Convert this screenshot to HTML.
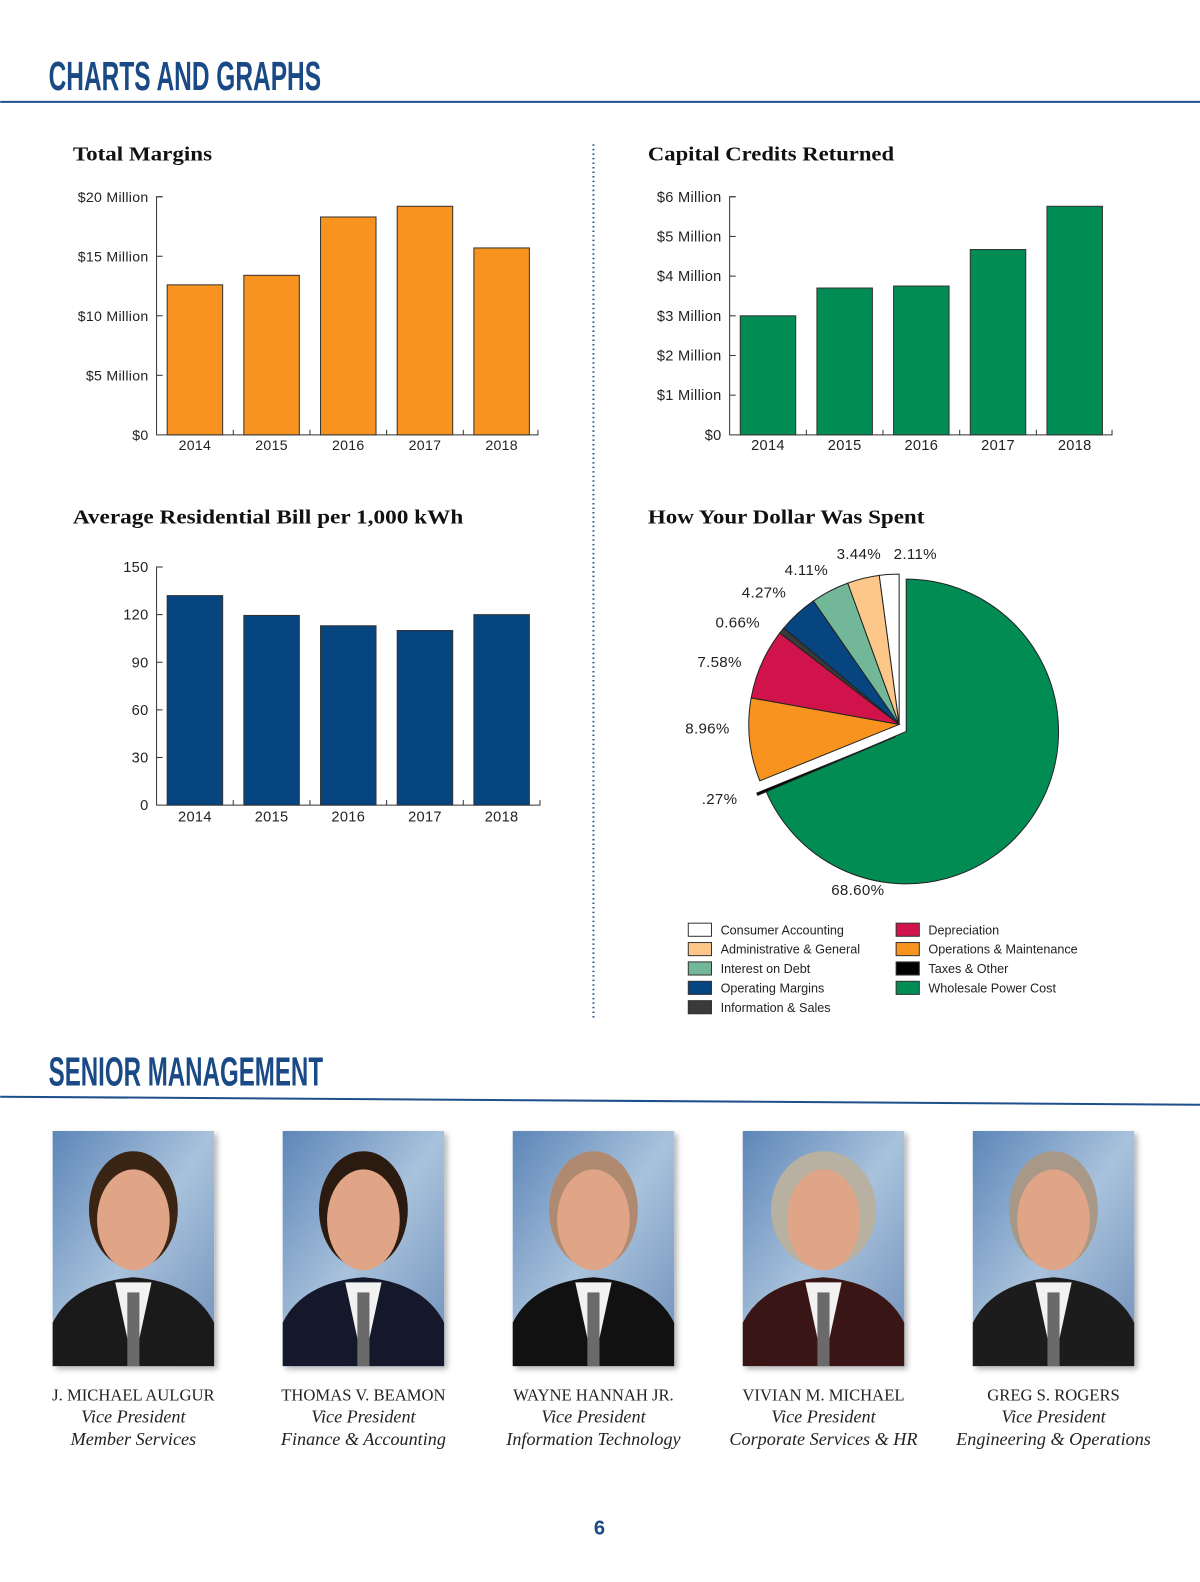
<!DOCTYPE html>
<html><head><meta charset="utf-8"><style>
html,body{margin:0;padding:0;background:#fff;}
svg{display:block;}
.ax{font-family:"Liberation Sans",sans-serif;font-size:14px;letter-spacing:0.3px;fill:#222;}
.tt{font-family:"Liberation Serif",serif;font-size:20px;font-weight:bold;fill:#111;}
.hd{font-family:"Liberation Sans Narrow","Liberation Sans",sans-serif;font-size:40px;font-weight:bold;fill:#1a4a86;}
.nm{font-family:"Liberation Serif",serif;font-size:16.5px;fill:#222;}
.it{font-family:"Liberation Serif",serif;font-size:18px;font-style:italic;fill:#222;}
.lg{font-family:"Liberation Sans",sans-serif;font-size:12.5px;fill:#222;}
</style></head><body>
<svg id="page" width="1200" height="1582" viewBox="0 0 1189 1568" xmlns="http://www.w3.org/2000/svg">
<defs>
<linearGradient id="bg" x1="0" y1="0" x2="1" y2="1"><stop offset="0" stop-color="#5d86b8"/><stop offset="0.5" stop-color="#a9c2dc"/><stop offset="1" stop-color="#6e8fba"/></linearGradient>
<filter id="sh" x="-10%" y="-10%" width="130%" height="130%"><feDropShadow dx="3" dy="3" stdDeviation="3" flood-color="#000" flood-opacity="0.3"/></filter>
</defs>
<text class="hd" x="48" y="89" textLength="270" lengthAdjust="spacingAndGlyphs">CHARTS AND GRAPHS</text>
<line x1="0" y1="101" x2="1200" y2="101" stroke="#1d4f8b" stroke-width="2"/>
<line x1="588" y1="143" x2="588" y2="1010" stroke="#2a5a90" stroke-width="2" stroke-dasharray="1.5 3"/>

<text class="tt" x="72" y="159" textLength="138" lengthAdjust="spacingAndGlyphs">Total Margins</text>
<text class="tt" x="642" y="159" textLength="244" lengthAdjust="spacingAndGlyphs">Capital Credits Returned</text>
<text class="tt" x="72" y="519" textLength="387" lengthAdjust="spacingAndGlyphs">Average Residential Bill per 1,000 kWh</text>
<text class="tt" x="642" y="519" textLength="274" lengthAdjust="spacingAndGlyphs">How Your Dollar Was Spent</text>

<g id="c1"></g>
<g id="c2"></g>
<g id="c3"></g>
<g id="pie"></g>
<g id="legend"></g>

<text class="hd" x="48" y="1076" textLength="272" lengthAdjust="spacingAndGlyphs">SENIOR MANAGEMENT</text>
<line x1="0" y1="1087" x2="1200" y2="1095" stroke="#1d4f8b" stroke-width="2"/>
<g id="people"></g>
<text x="594" y="1521" text-anchor="middle" font-family="Liberation Sans Narrow, Liberation Sans, sans-serif" font-size="20" font-weight="bold" fill="#1a4a86">6</text>
</svg>
<script>
const NS="http://www.w3.org/2000/svg";
const years=["2014","2015","2016","2017","2018"];
const marginValues=[12.6,13.4,18.3,19.2,15.7];
const marginTicks=["$0","$5 Million","$10 Million","$15 Million","$20 Million"];
const creditValues=[3.0,3.7,3.75,4.67,5.76];
const creditTicks=["$0","$1 Million","$2 Million","$3 Million","$4 Million","$5 Million","$6 Million"];
const billValues=[132,119.5,113,110,120];
const billTicks=["0","30","60","90","120","150"];
const pieLabels=["Wholesale Power Cost","Taxes & Other","Operations & Maintenance","Depreciation","Information & Sales","Operating Margins","Interest on Debt","Administrative & General","Consumer Accounting"];
const pieValues=[68.60,0.27,8.96,7.58,0.66,4.27,4.11,3.44,2.11];
const pieText=["68.60%",".27%","8.96%","7.58%","0.66%","4.27%","4.11%","3.44%","2.11%"];
const pieColors=["#008c52","#000000","#f7931e","#d0134a","#3a3a3a","#06457f","#72b898","#fdc789","#ffffff"];
const names=["J. MICHAEL AULGUR","THOMAS V. BEAMON","WAYNE HANNAH JR.","VIVIAN M. MICHAEL","GREG S. ROGERS"];
const titles=["Vice President","Vice President","Vice President","Vice President","Vice President"];
const depts=["Member Services","Finance & Accounting","Information Technology","Corporate Services & HR","Engineering & Operations"];

function mk(tag,attrs,parent){const e=document.createElementNS(NS,tag);for(const k in attrs)e.setAttribute(k,attrs[k]);parent.appendChild(e);return e;}

function barChart(gid,vals,ticks,tickStep,x0,yTop,yBot,xEnd,color,barW,labelYOff){
  const g=document.getElementById(gid);
  const max=tickStep*(ticks.length-1);
  const y=v=>yBot-(v/max)*(yBot-yTop);
  const step=76;
  const xc=i=>x0+step*i+step/2;
  mk("path",{d:`M${x0+6},${yTop}H${x0}V${yBot}H${xEnd}V${yBot-5}`,fill:"none",stroke:"#333","stroke-width":1},g);
  ticks.forEach((t,i)=>{
    const ty=y(i*tickStep);
    if(i>0) mk("line",{x1:x0,y1:ty,x2:x0+6,y2:ty,stroke:"#333"},g);
    const tx=mk("text",{x:x0-8,y:ty+5,"text-anchor":"end",class:"ax"},g);
    tx.textContent=t;
    
    
  });
  for(let i=1;i<vals.length;i++){ mk("line",{x1:x0+step*i,y1:yBot,x2:x0+step*i,y2:yBot-5,stroke:"#333"},g); }
  vals.forEach((v,i)=>{
    const r=mk("rect",{x:xc(i)-barW/2,y:y(v),width:barW,height:yBot-y(v),fill:color,stroke:"#333","stroke-width":1},g);
    
    
    const t=mk("text",{x:xc(i),y:yBot+labelYOff,"text-anchor":"middle",class:"ax"},g);
    t.textContent=years[i];
    
    
  });
}
barChart("c1",marginValues,marginTicks,5,155,195,431,533,"#f7931e",55,15);
barChart("c2",creditValues,creditTicks,1,723,195,431,1102,"#008c52",55,15);
document.querySelectorAll("#c2 text").forEach(t=>{t.style.fontSize="14.5px";});
barChart("c3",billValues,billTicks,30,155,562,798,535,"#06457f",55,16);
document.querySelectorAll("#c3 text").forEach(t=>{t.style.fontSize="14.5px";});

(function(){
  const g=document.getElementById("pie");
  const cx=898,cy=725,R=151;
  const total=pieValues.reduce((a,b)=>a+b,0);
  let a=0;
  const pt=(x,y,r,ang)=>[x+r*Math.sin(ang),y-r*Math.cos(ang)];
  const lblPos=[[850,887],[713,797],[701,727],[713,661],[731,622],[757,592],[799,570],[851,554],[907,554]];
  pieValues.forEach((v,i)=>{
    const a0=a, a1=a+v/total*2*Math.PI; a=a1;
    let ox=0,oy=0;
    if(i===1){ox=-10;oy=5;} else if(i>1){ox=-7;oy=-7;}
    const x=cx+ox,y=cy+oy,r=(i===0)?R:R-2;
    const p0=pt(x,y,r,a0),p1=pt(x,y,r,a1);
    const large=(a1-a0)>Math.PI?1:0;
    const p=mk("path",{d:`M${x},${y}L${p0[0]},${p0[1]}A${r},${r} 0 ${large} 1 ${p1[0]},${p1[1]}Z`,fill:pieColors[i],stroke:"#222","stroke-width":1},g);
    
    
    const t=mk("text",{x:lblPos[i][0],y:lblPos[i][1],"text-anchor":"middle",class:"ax"},g);
    t.style.fontSize="15px";
    t.textContent=pieText[i];
    
    
  });
})();

(function(){
  const g=document.getElementById("legend");
  const order=[8,7,6,5,4,3,2,1,0];
  order.forEach((idx,k)=>{
    const col=k<5?0:1,row=k<5?k:k-5;
    const x=col?888:682,y=915+row*19.2;
    const r=mk("rect",{x:x,y:y,width:23,height:13,fill:pieColors[idx],stroke:"#333","stroke-width":1},g);
    
    
    const t=mk("text",{x:x+32,y:y+11,class:"lg"},g);
    t.textContent=pieLabels[idx];
    
    
  });
})();

(function(){
  const g=document.getElementById("people");
  const xs=[52,280,508,736,964];
  const suits=["#1a1a1a","#15182a","#111","#3a1515","#1c1c1c"];
  const hair=["#3a2414","#2a1a10","#b08a70","#b8b0a0","#a89888"];
  names.forEach((n,i)=>{
    const x=xs[i],y=1121,w=160,h=233;
    const pg=mk("g",{},g);
    
    
    mk("rect",{x:x,y:y,width:w,height:h,fill:"url(#bg)",filter:"url(#sh)"},pg);
    mk("path",{d:`M${x},${y+h}V${y+190}Q${x+20},${y+150} ${x+80},${y+145}Q${x+140},${y+150} ${x+w},${y+190}V${y+h}Z`,fill:suits[i]},pg);
    mk("path",{d:`M${x+62},${y+150}L${x+80},${y+h}L${x+98},${y+150}Z`,fill:"#f2f2f2"},pg);
    mk("rect",{x:x+74,y:y+160,width:12,height:h-160,fill:"#6a6a6a"},pg);
    mk("ellipse",{cx:x+80,cy:y+78,rx:(i===3?52:44),ry:58,fill:hair[i]},pg);
    mk("ellipse",{cx:x+80,cy:y+88,rx:36,ry:50,fill:"#e0a487"},pg);
    const t1=mk("text",{x:x+80,y:1388,"text-anchor":"middle",class:"nm"},g);
    t1.textContent=n;
    
    
    const t2=mk("text",{x:x+80,y:1410,"text-anchor":"middle",class:"it"},g);
    t2.textContent=titles[i];
    
    
    const t3=mk("text",{x:x+80,y:1432,"text-anchor":"middle",class:"it"},g);
    t3.textContent=depts[i];
    
    
  });
})();
</script>
</body></html>
